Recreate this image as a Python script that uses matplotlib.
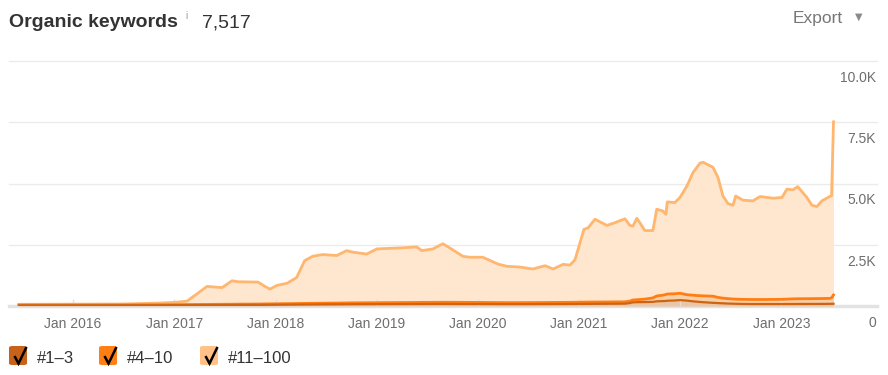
import matplotlib
matplotlib.use("Agg")
import matplotlib.pyplot as plt
import matplotlib.dates as mdates
import pandas as pd
from matplotlib.patches import FancyBboxPatch
from matplotlib.lines import Line2D
from matplotlib.transforms import blended_transform_factory, offset_copy

plt.rcParams["font.family"] = ["Liberation Sans", "DejaVu Sans"]

# data
dates = [
    "2015-06-20", "2016-06-19", "2016-11-09", "2017-01-04", "2017-02-16", "2017-03-24",
    "2017-04-29", "2017-06-22", "2017-07-28", "2017-08-19", "2017-10-30", "2017-11-24",
    "2017-12-12", "2018-01-06", "2018-02-12", "2018-03-18", "2018-04-16", "2018-05-15",
    "2018-06-20", "2018-08-10", "2018-09-15", "2018-10-06", "2018-11-26", "2019-01-02",
    "2019-03-26", "2019-05-26", "2019-06-13", "2019-07-23", "2019-08-28", "2019-09-22",
    "2019-11-08", "2019-12-03", "2020-01-19", "2020-02-14", "2020-03-14", "2020-04-15",
    "2020-06-01", "2020-07-18", "2020-08-31", "2020-09-29", "2020-11-04", "2020-11-29",
    "2020-12-17", "2021-01-04", "2021-01-18", "2021-02-02", "2021-02-27", "2021-04-11",
    "2021-05-10", "2021-06-15", "2021-07-03", "2021-07-14", "2021-07-28", "2021-08-08",
    "2021-08-26", "2021-09-24", "2021-10-08", "2021-10-30", "2021-11-10", "2021-11-15",
    "2021-12-12", "2021-12-31", "2022-01-25", "2022-02-16", "2022-03-13", "2022-03-24",
    "2022-04-29", "2022-05-17", "2022-06-04", "2022-06-22", "2022-07-10", "2022-07-20",
    "2022-08-15", "2022-09-20", "2022-10-16", "2022-12-01", "2023-01-03", "2023-01-21",
    "2023-02-11", "2023-03-01", "2023-04-03", "2023-04-21", "2023-05-09", "2023-05-27",
    "2023-06-24", "2023-07-01", "2023-07-08",
]
kw_1_3 = [
    25, 28, 30, 32, 34, 35, 36, 38, 40, 42, 45, 48, 50, 52, 55, 58, 60, 62, 65, 68,
    70, 72, 74, 75, 78, 80, 80, 82, 82, 82, 80, 80, 78, 78, 76, 75, 75, 76, 78, 80,
    80, 82, 82, 84, 85, 86, 88, 90, 92, 95, 120, 150, 155, 158, 160, 170, 190, 200,
    205, 215, 225, 240, 220, 190, 165, 155, 130, 120, 110, 100, 95, 90, 85, 80, 80,
    80, 80, 82, 82, 84, 84, 85, 85, 86, 88, 90, 92,
]
kw_4_10 = [
    15, 17, 20, 23, 26, 27, 29, 32, 32, 33, 35, 37, 38, 38, 40, 42, 45, 48, 50, 52,
    55, 56, 58, 60, 62, 65, 68, 68, 70, 70, 70, 68, 67, 64, 64, 63, 63, 64, 64, 65,
    68, 68, 70, 71, 73, 74, 74, 75, 76, 75, 80, 95, 100, 107, 120, 160, 220, 240,
    265, 275, 275, 280, 240, 250, 255, 260, 270, 230, 210, 200, 190, 190, 185, 185,
    185, 188, 192, 198, 208, 211, 214, 215, 217, 219, 222, 240, 358,
]
kw_11_100 = [
    30, 35, 70, 95, 140, 438, 735, 680, 958, 915, 895, 715, 602, 750, 835, 1060,
    1745, 1920, 1985, 1940, 2135, 2072, 1988, 2195, 2230, 2265, 2112, 2180, 2388,
    2218, 1880, 1842, 1845, 1718, 1570, 1482, 1452, 1370, 1503, 1365, 1552, 1520,
    1738, 2425, 2967, 3030, 3378, 3125, 3232, 3390, 3090, 3015, 3325, 3135, 2800,
    2750, 3540, 3440, 3270, 3760, 3720, 3910, 4440, 5010, 5410, 5455, 5260, 4900,
    4170, 3880, 3825, 4210, 4050, 4025, 4205, 4132, 4158, 4490, 4450, 4575, 4132,
    3810, 3758, 3985, 4160, 4170, 7067,
]
series_names = ["#1\u20133", "#4\u201310", "#11\u2013100"]
ytick_vals = [0, 2500, 5000, 7500, 10000]
ytick_labels = ["0", "2.5K", "5.0K", "7.5K", "10.0K"]

line_colors = ["#cb6415", "#ff7d12", "#ffb66f"]
fill_colors = ["#ebc6a3", "#fbcfa6", "#fee6cf"]
box_colors = ["#c8611a", "#ff7f14", "#ffc185"]

W, H = 888, 375
fig = plt.figure(figsize=(W / 100, H / 100), dpi=100)
ax = fig.add_axes([9 / W, (H - 306) / H, (877 - 9) / W, (306 - 61) / H])

x = pd.to_datetime(dates)
c1 = pd.Series(kw_1_3, dtype=float)
c2 = c1 + pd.Series(kw_4_10, dtype=float)
c3 = c2 + pd.Series(kw_11_100, dtype=float)

# grid
for v in ytick_vals[1:]:
    ax.axhline(v, color="#ebebeb", lw=1, zorder=0, clip_on=False)
ax.axhline(0, color="#e2e2e2", lw=2.5, zorder=0.5, clip_on=False)

ax.fill_between(x, c2, c3, color=fill_colors[2], lw=0, zorder=1)
ax.fill_between(x, c1, c2, color=fill_colors[1], lw=0, zorder=1)
ax.fill_between(x, 0, c1, color=fill_colors[0], lw=0, zorder=1)
ax.plot(x, c3, color=line_colors[2], lw=2, zorder=3, solid_joinstyle="round")
ax.plot(x, c2, color=line_colors[1], lw=2, zorder=4, solid_joinstyle="round")
ax.plot(x, c1, color=line_colors[0], lw=1.6, zorder=5, solid_joinstyle="round")

ax.set_xlim(pd.Timestamp("2015-05-15"), pd.Timestamp("2023-12-12"))
ax.set_ylim(0, 10000)
ax.xaxis.set_major_locator(mdates.YearLocator())
ax.xaxis.set_major_formatter(mdates.DateFormatter("%b %Y"))
ax.tick_params(axis="x", direction="in", length=5, width=1, color="#e0e0e0",
               pad=8, labelsize=10, labelcolor="#6e6e6e")
ax.set_yticks([])
for s in ax.spines.values():
    s.set_visible(False)
ax.patch.set_alpha(0)

blend = blended_transform_factory(ax.transAxes, ax.transData)
ylab_tr = offset_copy(blend, fig=fig, x=-1, y=-17, units="dots")
for v, lab in zip(ytick_vals, ytick_labels):
    ax.text(1.0, v, lab, transform=ylab_tr, ha="right", va="center",
            fontsize=10, color="#6e6e6e", clip_on=False)

# header
def fx(px):
    return px / W

def fy(py):
    return 1 - py / H

fig.text(fx(9), fy(27), "Organic keywords", fontsize=14, fontweight="bold",
         color="#333333", va="baseline")
fig.text(fx(185), fy(19), "i", fontsize=7, color="#9a9a9a", va="baseline")
fig.text(fx(202), fy(27), "7,517", fontsize=14, color="#333333", va="baseline")
fig.text(fx(793), fy(23), "Export", fontsize=12.5, color="#777777", va="baseline")
fig.text(fx(859), fy(17), "\u25bc", fontsize=7, color="#8a8a8a", va="center",
         ha="center", family="DejaVu Sans")

# legend with check boxes
box_x = [9, 99, 200]
for bx, col, name in zip(box_x, box_colors, series_names):
    box = FancyBboxPatch((fx(bx), fy(365)), 18 / W, 19 / H,
                         boxstyle="round,pad=0,rounding_size=0.004",
                         transform=fig.transFigure, facecolor=col, edgecolor="none")
    fig.patches.append(box)
    fig.lines.append(Line2D([fx(bx + 5.5), fx(bx + 9.5), fx(bx + 17.5)],
                            [fy(356), fy(363.5), fy(347)],
                            transform=fig.transFigure, color="black", lw=1.8,
                            solid_joinstyle="miter", solid_capstyle="butt"))
    fig.text(fx(bx + 28), fy(363), name, fontsize=12, color="#333333", va="baseline")

fig.savefig("out.png", dpi=100)
